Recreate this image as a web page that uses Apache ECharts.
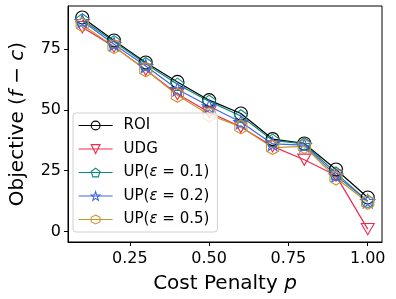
<!DOCTYPE html>
<html><head><meta charset="utf-8">
<script src="https://cdn.jsdelivr.net/npm/echarts@6/dist/echarts.min.js"></script>
<style>html,body{margin:0;padding:0;background:#fff}#c{width:396px;height:299px}</style>
</head><body><div id="c"></div>
<script>
const penalties = [0.1,0.2,0.3,0.4,0.5,0.6,0.7,0.8,0.9,1.0];
const roi   = [88, 78.5, 69.5, 61.5, 54, 48.5, 38, 36.2, 25.5, 14];
const udg   = [84, 76, 66.5, 56.5, 49, 43, 35, 29.5, 23, 1];
const up01  = [87, 78, 69, 60.5, 53.5, 47.5, 37.5, 36, 24, 12.5];
const up02  = [86.5, 77, 68, 58.5, 51.5, 45, 36, 35.5, 23, 12.5];
const up05  = [85, 76, 66.5, 56, 48, 43, 34.5, 35, 22, 12];
const xTicks = [0.25, 0.5, 0.75, 1.0];
const yTicks = [0, 25, 50, 75];
const seriesNames = ['ROI','UDG','UP(ε = 0.1)','UP(ε = 0.2)','UP(ε = 0.5)'];

const FONT = 'DejaVu Sans';
const circ = 'path://M1,0A1,1 0 1,1 -1,0A1,1 0 1,1 1,0Z';
const tri = 'path://M0,0L2,0L1,1.732Z';
const pent = 'path://M0,-1L0.951,-0.309L0.588,0.809L-0.588,0.809L-0.951,-0.309Z';
function starPath(){let p='';for(let i=0;i<10;i++){const r=i%2?0.4:1;const a=-Math.PI/2+i*Math.PI/5;p+=(i?'L':'M')+(r*Math.cos(a)).toFixed(3)+','+(r*Math.sin(a)).toFixed(3);}return 'path://'+p+'Z';}
const hex = 'path://M0,-1L0.866,-0.5L0.866,0.5L0,1L-0.866,0.5L-0.866,-0.5Z';

const defs = [
  {data: roi,  color:'#000000', symbol: circ, size:13},
  {data: udg,  color:'#ee2a4e', symbol: tri, size:13},
  {data: up01, color:'#0b8a80', symbol: pent, size:13},
  {data: up02, color:'#4169e1', symbol: starPath(), size:14},
  {data: up05, color:'#c9962b', symbol: hex, size:14}
];
const CLEAR = 'rgba(255,255,255,0)';

const series = defs.map((d,i)=>({
  name: seriesNames[i], type:'line',
  data: penalties.map((x,j)=>[x,d.data[j]]),
  symbol: d.symbol, symbolSize: d.size, symbolKeepAspect: true,
  showSymbol: true,
  lineStyle:{color:d.color,width:1.2},
  itemStyle:{color:CLEAR,borderColor:d.color,borderWidth:1.1},
  emphasis:{disabled:true},
  animation:false
}));

const chart = echarts.init(document.getElementById('c'));
chart.setOption({
  animation:false,
  grid:{left:64,right:14,top:6,bottom:57,show:true,borderColor:'#000',borderWidth:1,backgroundColor:'transparent'},
  xAxis:{type:'value',min:0.055,max:1.045,
    axisLine:{show:true,onZero:false,lineStyle:{color:'#000'}},
    axisTick:{show:true,inside:false,length:4,lineStyle:{color:'#000'},customValues:xTicks},
    axisLabel:{customValues:xTicks,formatter:v=>v.toFixed(2),color:'#000',fontFamily:FONT,fontSize:16,margin:9},
    splitLine:{show:false},
    name:'Cost Penalty {i|p}',nameLocation:'middle',nameGap:32,
    nameTextStyle:{color:'#000',fontFamily:FONT,fontSize:20,rich:{i:{fontStyle:'italic',fontFamily:FONT,fontSize:20,color:'#000'}}}
  },
  yAxis:{type:'value',min:-4.3,max:92.7,
    axisLine:{show:true,onZero:false,lineStyle:{color:'#000'}},
    axisTick:{show:true,inside:false,length:4,lineStyle:{color:'#000'},customValues:yTicks},
    axisLabel:{customValues:yTicks,color:'#000',fontFamily:FONT,fontSize:16,margin:7},
    splitLine:{show:false},
    name:'Objective ({i|f} − {i|c})',nameLocation:'middle',nameGap:40,nameRotate:90,
    nameTextStyle:{color:'#000',fontFamily:FONT,fontSize:20,rich:{i:{fontStyle:'italic',fontFamily:FONT,fontSize:20,color:'#000'}}}
  },
  legend:{
    left:73,top:113,orient:'vertical',
    itemWidth:34,itemHeight:11,itemGap:8.5,
    padding:[5,8,5,5],
    backgroundColor:'rgba(255,255,255,0.8)',borderColor:'#d0d0d0',borderWidth:1,borderRadius:3,
    textStyle:{color:'#000',fontFamily:FONT,fontSize:15,padding:[0,0,0,6],
      rich:{i:{fontStyle:'italic',fontFamily:FONT,fontSize:15,color:'#000'}}},
    formatter: n => n.replace('ε','{i|ε}'),
    data: seriesNames.map((n,i)=>({name:n,
      itemStyle:{color:CLEAR,borderColor:defs[i].color,borderWidth:1.1},
      lineStyle:{color:defs[i].color,width:1.2,type:'solid'}}))
  },
  series: series
});
</script></body></html>
